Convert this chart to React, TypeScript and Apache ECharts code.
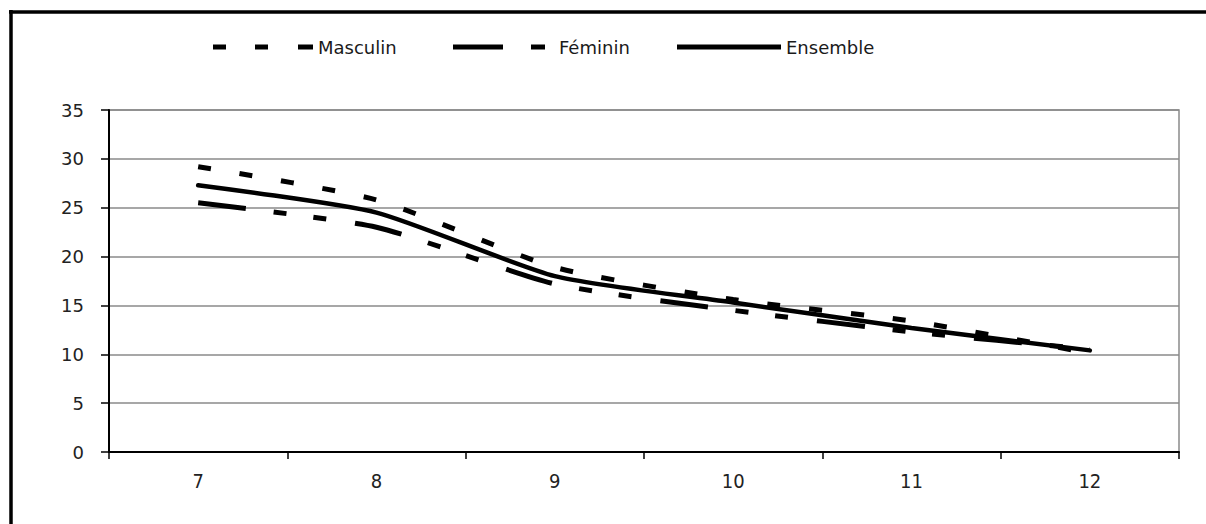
import React, { useEffect, useRef } from "react";
import * as echarts from "echarts";

const categories = ["7", "8", "9", "10", "11", "12"];
const masculin = [29.2, 25.8, 18.9, 15.6, 13.4, 10.1];
const feminin = [25.5, 23.0, 17.2, 14.5, 12.3, 10.5];
const ensemble = [27.3, 24.5, 18.0, 15.3, 12.7, 10.4];
const seriesNames = ["Masculin", "Féminin", "Ensemble"];

const W = 1206;
const H = 524;

const iconMasc = "path://M0,0H13V5H0Z M42,0H55V5H42Z M85,0H100V5H85Z";
const iconFem = "path://M0,0H50V5H0Z M78,0H92V5H78Z";
const iconEns = "path://M0,0H104V5H0Z";

export default function App() {
  const ref = useRef<HTMLDivElement>(null);
  useEffect(() => {
    if (!ref.current) return;
    const chart = echarts.init(ref.current, null, { renderer: "svg" });
    const legendText = {
      color: "#1a1a1a",
      fontSize: 18,
      fontFamily: "'DejaVu Sans', Verdana, sans-serif",
    };
    const mascDash = [13, 29];
    const femDash = [48, 28, 13, 27, 13, 29];
    chart.setOption({
      animation: false,
      backgroundColor: "#ffffff",
      graphic: [
        {
          type: "line",
          shape: { x1: 11, y1: 10, x2: 11, y2: 600 },
          style: { stroke: "#000", lineWidth: 3.5 },
          silent: true,
          z: 100,
        },
        {
          type: "line",
          shape: { x1: 9, y1: 12, x2: 1206, y2: 12 },
          style: { stroke: "#000", lineWidth: 3.5 },
          silent: true,
          z: 100,
        },
      ],
      legend: [
        {
          data: [{ name: seriesNames[0], icon: iconMasc }],
          left: 213,
          top: 38,
          padding: 0,
          itemWidth: 100,
          itemHeight: 5,
          textStyle: legendText,
        },
        {
          data: [{ name: seriesNames[1], icon: iconFem }],
          left: 453,
          top: 38,
          padding: 0,
          itemWidth: 92,
          itemHeight: 5,
          itemGap: 0,
          textStyle: { ...legendText, padding: [0, 0, 0, 9] },
        },
        {
          data: [{ name: seriesNames[2], icon: iconEns }],
          left: 677,
          top: 38,
          padding: 0,
          itemWidth: 104,
          itemHeight: 5,
          textStyle: legendText,
        },
      ],
      grid: {
        left: 109,
        right: W - 1179,
        top: 110,
        bottom: H - 452,
        show: true,
        borderColor: "#8a8a8a",
        borderWidth: 1.5,
        backgroundColor: "transparent",
      },
      xAxis: {
        type: "category",
        data: categories,
        boundaryGap: true,
        axisLine: { show: true, lineStyle: { color: "#000", width: 2 } },
        axisTick: { show: true, length: 7, lineStyle: { color: "#000", width: 1.5 } },
        axisLabel: {
          margin: 19,
          color: "#222",
          fontSize: 20,
          fontFamily: "'DejaVu Sans Condensed', 'Liberation Sans Narrow', sans-serif",
        },
        splitLine: { show: false },
      },
      yAxis: {
        type: "value",
        min: 0,
        max: 35,
        interval: 5,
        axisLine: { show: true, lineStyle: { color: "#000", width: 2 } },
        axisTick: { show: true, length: 8, lineStyle: { color: "#000", width: 1.5 } },
        axisLabel: {
          margin: 25,
          color: "#222",
          fontSize: 18,
          fontFamily: "'DejaVu Sans', Verdana, sans-serif",
        },
        splitLine: { show: true, lineStyle: { color: "#8a8a8a", width: 1.5 } },
      },
      series: [
        {
          name: seriesNames[0],
          type: "line",
          data: masculin,
          symbol: "none",
          smooth: 0.2,
          lineStyle: { color: "#000", width: 5, type: mascDash, cap: "butt" },
          itemStyle: { color: "#000" },
        },
        {
          name: seriesNames[1],
          type: "line",
          data: feminin,
          symbol: "none",
          smooth: 0.2,
          lineStyle: { color: "#000", width: 5, type: femDash, cap: "butt" },
          itemStyle: { color: "#000" },
        },
        {
          name: seriesNames[2],
          type: "line",
          data: ensemble,
          symbol: "none",
          smooth: 0.2,
          lineStyle: { color: "#000", width: 4.5, type: "solid", cap: "round" },
          itemStyle: { color: "#000" },
        },
      ],
    });
    return () => chart.dispose();
  }, []);
  return (
    <div
      ref={ref}
      style={{ position: "fixed", left: 0, top: 0, width: W, height: H, background: "#fff" }}
    />
  );
}
